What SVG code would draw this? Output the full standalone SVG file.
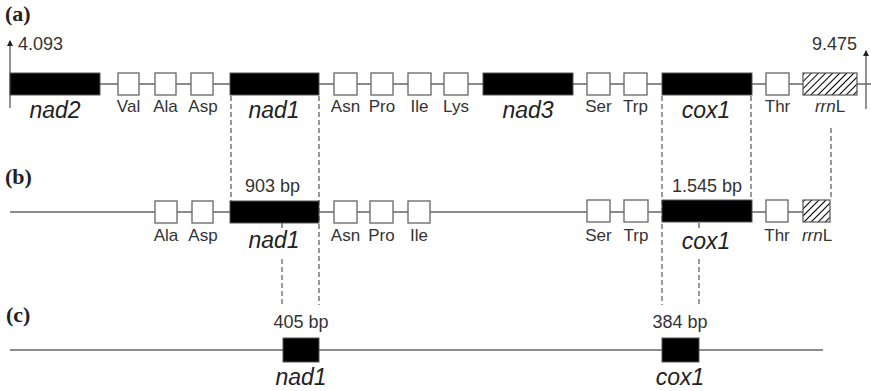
<svg xmlns="http://www.w3.org/2000/svg" width="871" height="391" viewBox="0 0 871 391">
<style>
.ln{stroke:#666;stroke-width:1.4;fill:none}
.ds{stroke:#666;stroke-width:1.3;stroke-dasharray:5 3;fill:none}
.t{fill:#fff;stroke:#666;stroke-width:1.3}
.g{fill:#000;stroke:#555;stroke-width:1}
.h{fill:url(#hatch);stroke:#555;stroke-width:1.2}
.lab{font-family:"Liberation Sans",Arial,sans-serif;font-size:17px;fill:#333;text-anchor:middle}
.gene{font-family:"Liberation Sans",Arial,sans-serif;font-size:23px;font-style:italic;fill:#222;text-anchor:middle}
.num{font-family:"Liberation Sans",Arial,sans-serif;font-size:18px;fill:#333}
.pl{font-family:"Liberation Serif","Times New Roman",serif;font-size:22px;font-weight:bold;fill:#222}
</style>
<defs>
<pattern id="hatch" patternUnits="userSpaceOnUse" width="5" height="5" patternTransform="rotate(45)">
<rect width="5" height="5" fill="#fff"/>
<line x1="0" y1="0" x2="0" y2="5" stroke="#000" stroke-width="2"/>
</pattern>
<marker id="ah" viewBox="0 0 6 6" refX="5" refY="3" markerWidth="6" markerHeight="6" orient="auto" markerUnits="userSpaceOnUse">
<path d="M0,0 L6,3 L0,6 Z" fill="#222"/>
</marker>
</defs>

<g id="panel-labels">
<text class="pl" x="5" y="21">(a)</text>
<text class="pl" x="5" y="184">(b)</text>
<text class="pl" x="6" y="322">(c)</text>
</g>

<g id="connectors">
<line class="ln" x1="10" y1="84" x2="871" y2="84"/>
<line class="ln" x1="10" y1="212" x2="803" y2="212"/>
<line class="ln" x1="10" y1="350" x2="823" y2="350"/>
<line class="ln" x1="10" y1="108" x2="10" y2="41" marker-end="url(#ah)"/>
<line class="ln" x1="866" y1="109" x2="866" y2="51" marker-end="url(#ah)"/>
<line class="ds" x1="231" y1="96" x2="231" y2="201"/>
<line class="ds" x1="319" y1="96" x2="319" y2="305"/>
<line class="ds" x1="662" y1="96" x2="662" y2="305"/>
<line class="ds" x1="751" y1="96" x2="751" y2="200"/>
<line class="ds" x1="831" y1="128" x2="831" y2="200"/>
<line class="ln" x1="282" y1="223" x2="282" y2="228"/>
<line class="ds" x1="282" y1="259" x2="282" y2="305"/>
<line class="ln" x1="699" y1="223" x2="699" y2="228"/>
<line class="ds" x1="699" y1="259" x2="699" y2="305"/>
</g>

<g id="row-a">
<text class="num" x="18" y="50">4.093</text>
<text class="num" x="812" y="50">9.475</text>
<g id="a-nad2"><rect class="g" x="10" y="73" width="90" height="22"/><text class="gene" x="55" y="118">nad2</text></g>
<g id="a-val"><rect class="t" x="118" y="73" width="21" height="22"/><text class="lab" x="128.5" y="112">Val</text></g>
<g id="a-ala"><rect class="t" x="155" y="73" width="21" height="22"/><text class="lab" x="165.5" y="112">Ala</text></g>
<g id="a-asp"><rect class="t" x="191" y="73" width="22" height="22"/><text class="lab" x="203" y="112">Asp</text></g>
<g id="a-nad1"><rect class="g" x="230" y="73" width="89" height="22"/><text class="gene" x="274" y="118">nad1</text></g>
<g id="a-asn"><rect class="t" x="334" y="73" width="23" height="22"/><text class="lab" x="345.5" y="112">Asn</text></g>
<g id="a-pro"><rect class="t" x="371" y="73" width="22" height="22"/><text class="lab" x="382" y="112">Pro</text></g>
<g id="a-ile"><rect class="t" x="408" y="73" width="23" height="22"/><text class="lab" x="419.5" y="112">Ile</text></g>
<g id="a-lys"><rect class="t" x="444" y="73" width="24" height="22"/><text class="lab" x="456" y="112">Lys</text></g>
<g id="a-nad3"><rect class="g" x="483" y="73" width="90" height="22"/><text class="gene" x="528" y="118">nad3</text></g>
<g id="a-ser"><rect class="t" x="587" y="73" width="23" height="22"/><text class="lab" x="598.5" y="112">Ser</text></g>
<g id="a-trp"><rect class="t" x="624" y="73" width="23" height="22"/><text class="lab" x="635.5" y="112">Trp</text></g>
<g id="a-cox1"><rect class="g" x="662" y="73" width="90" height="22"/><text class="gene" x="706" y="118">cox1</text></g>
<g id="a-thr"><rect class="t" x="766" y="73" width="23" height="22"/><text class="lab" x="777.5" y="112">Thr</text></g>
<g id="a-rrnl"><rect class="h" x="803" y="73" width="54" height="22"/><text class="lab" x="830" y="112"><tspan font-style="italic">rrn</tspan>L</text></g>
</g>

<g id="row-b">
<text class="num" x="245" y="192">903 bp</text>
<text class="num" x="672" y="192">1.545 bp</text>
<g id="b-ala"><rect class="t" x="155" y="201" width="22" height="22"/><text class="lab" x="166" y="241">Ala</text></g>
<g id="b-asp"><rect class="t" x="192" y="201" width="21" height="22"/><text class="lab" x="203" y="241">Asp</text></g>
<g id="b-nad1"><rect class="g" x="230" y="201" width="89" height="22"/><text class="gene" x="274" y="248">nad1</text></g>
<g id="b-asn"><rect class="t" x="334" y="201" width="23" height="22"/><text class="lab" x="345.5" y="241">Asn</text></g>
<g id="b-pro"><rect class="t" x="370" y="201" width="23" height="22"/><text class="lab" x="381.5" y="241">Pro</text></g>
<g id="b-ile"><rect class="t" x="408" y="201" width="22" height="22"/><text class="lab" x="419" y="241">Ile</text></g>
<g id="b-ser"><rect class="t" x="587" y="200" width="23" height="22"/><text class="lab" x="598.5" y="241">Ser</text></g>
<g id="b-trp"><rect class="t" x="624" y="200" width="24" height="22"/><text class="lab" x="636" y="241">Trp</text></g>
<g id="b-cox1"><rect class="g" x="662" y="200" width="90" height="22"/><text class="gene" x="706" y="249">cox1</text></g>
<g id="b-thr"><rect class="t" x="766" y="200" width="22" height="22"/><text class="lab" x="777" y="241">Thr</text></g>
<g id="b-rrnl"><rect class="h" x="803" y="200" width="27" height="22"/><text class="lab" x="817" y="241"><tspan font-style="italic">rrn</tspan>L</text></g>
</g>

<g id="row-c">
<text class="num" x="301" y="328" text-anchor="middle">405 bp</text>
<text class="num" x="680" y="328" text-anchor="middle">384 bp</text>
<g id="c-nad1"><rect class="g" x="283" y="338" width="36" height="24"/><text class="gene" x="301" y="385">nad1</text></g>
<g id="c-cox1"><rect class="g" x="662" y="338" width="37" height="24"/><text class="gene" x="680" y="385">cox1</text></g>
</g>
</svg>
